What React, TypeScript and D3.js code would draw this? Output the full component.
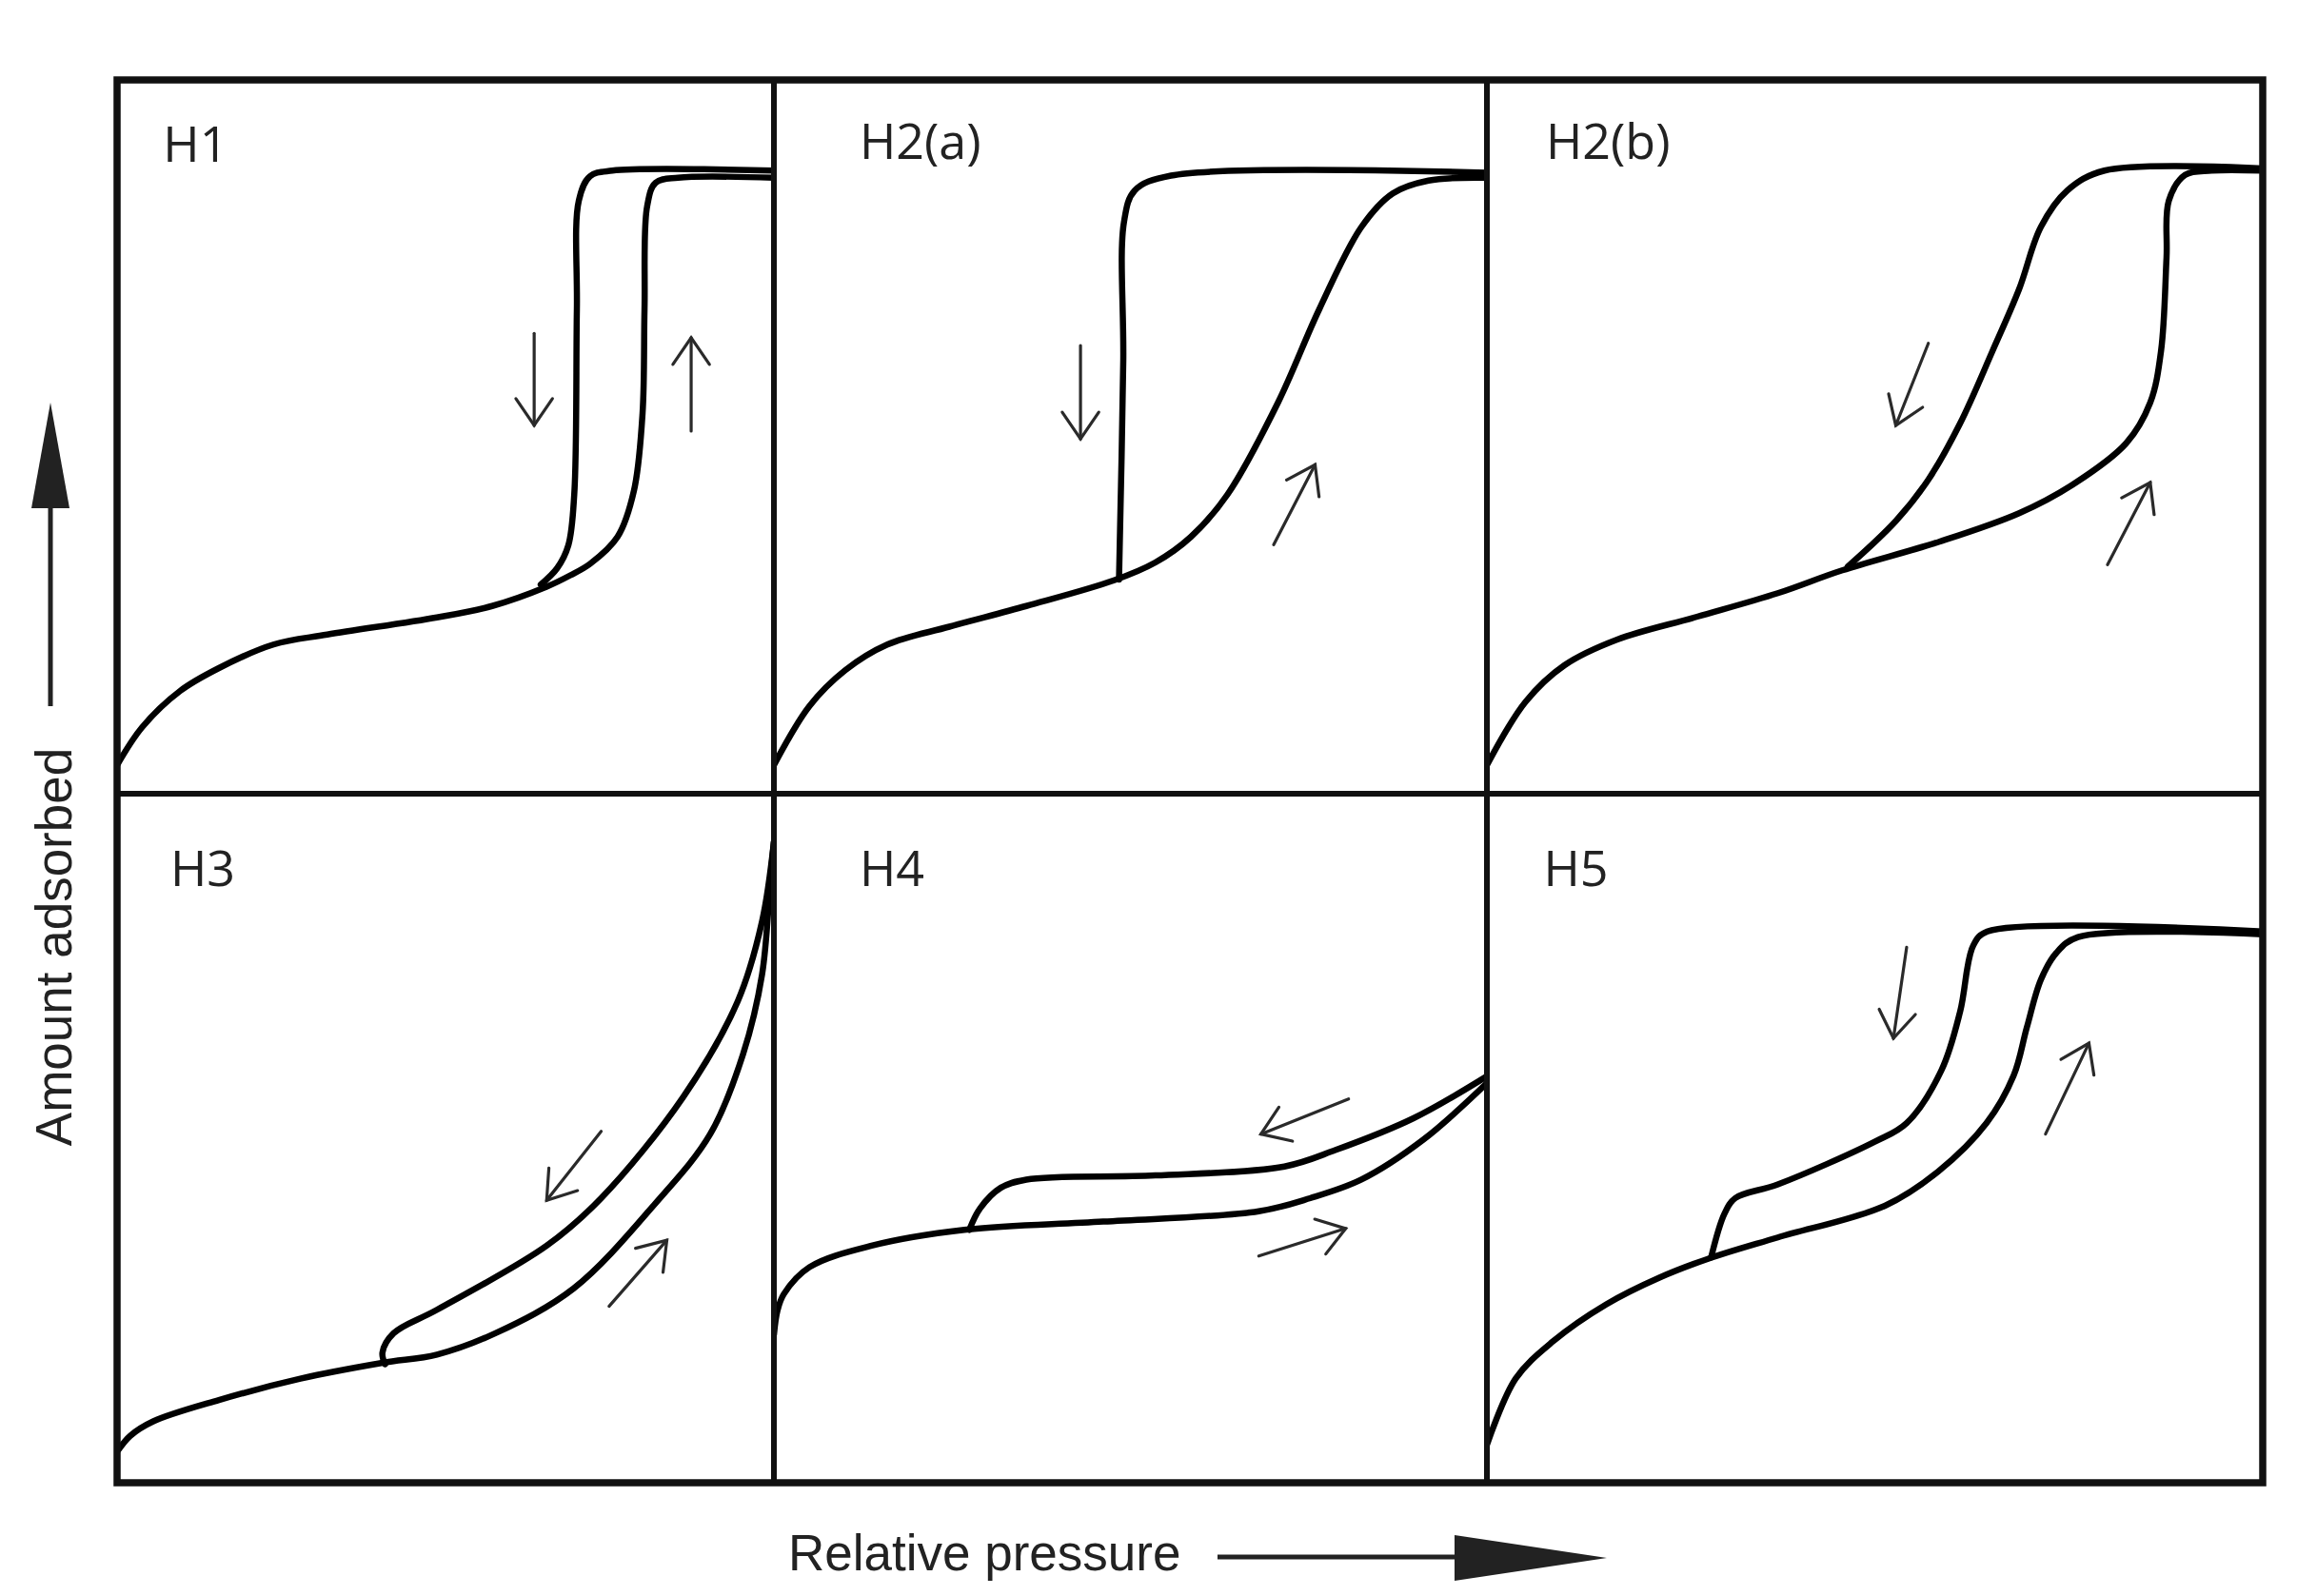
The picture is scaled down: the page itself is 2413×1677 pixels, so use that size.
import React from "react";
import * as d3 from "d3";

type P = [number, number];

// ---- data (relative pressure 0..1, amount adsorbed 0..1, normalized per panel) ----
const panelNames = ["H1", "H2(a)", "H2(b)", "H3", "H4", "H5"];

const h1Adsorption: P[] = [[0, 0.04], [0.038, 0.093], [0.096, 0.144], [0.155, 0.176], [0.238, 0.209], [0.32, 0.223], [0.487, 0.247], [0.571, 0.263], [0.654, 0.29], [0.69, 0.306], [0.72, 0.322], [0.762, 0.36], [0.787, 0.425], [0.8, 0.533], [0.803, 0.679], [0.807, 0.823], [0.82, 0.856], [0.854, 0.863], [1, 0.863]];
const h1Desorption: P[] = [[1, 0.873], [0.754, 0.873], [0.72, 0.865], [0.703, 0.831], [0.7, 0.679], [0.696, 0.419], [0.687, 0.348], [0.67, 0.316], [0.645, 0.293]];

const h2aAdsorption: P[] = [[0, 0.04], [0.05, 0.123], [0.1, 0.173], [0.159, 0.209], [0.246, 0.234], [0.354, 0.263], [0.477, 0.299], [0.535, 0.324], [0.585, 0.36], [0.636, 0.419], [0.707, 0.548], [0.765, 0.679], [0.824, 0.794], [0.868, 0.841], [0.918, 0.859], [1, 0.863]];
const h2aDesorption: P[] = [[1, 0.87], [0.557, 0.866], [0.506, 0.845], [0.491, 0.801], [0.49, 0.607], [0.484, 0.3]];

const h2bAdsorption: P[] = [[0, 0.04], [0.05, 0.129], [0.1, 0.18], [0.168, 0.216], [0.271, 0.248], [0.375, 0.281], [0.458, 0.313], [0.583, 0.353], [0.686, 0.393], [0.755, 0.433], [0.824, 0.491], [0.855, 0.548], [0.869, 0.621], [0.876, 0.751], [0.879, 0.831], [0.9, 0.867], [0.934, 0.873], [1, 0.873]];
const h2bDesorption: P[] = [[1, 0.876], [0.796, 0.873], [0.748, 0.845], [0.714, 0.794], [0.686, 0.707], [0.652, 0.621], [0.61, 0.519], [0.569, 0.44], [0.527, 0.382], [0.465, 0.318]];

const h3Adsorption: P[] = [[0, 0.045], [0.02, 0.068], [0.055, 0.089], [0.155, 0.12], [0.279, 0.151], [0.404, 0.174], [0.487, 0.186], [0.576, 0.217], [0.695, 0.282], [0.82, 0.406], [0.903, 0.506], [0.953, 0.622], [0.982, 0.738], [0.995, 0.88], [1, 0.93]];
const h3Desorption: P[] = [[1, 0.93], [0.982, 0.815], [0.945, 0.699], [0.862, 0.56], [0.737, 0.413], [0.654, 0.344], [0.487, 0.251], [0.421, 0.217], [0.404, 0.189], [0.408, 0.172]];

const h4Adsorption: P[] = [[0, 0.215], [0.005, 0.25], [0.014, 0.274], [0.05, 0.313], [0.137, 0.344], [0.267, 0.367], [0.462, 0.379], [0.68, 0.394], [0.752, 0.413], [0.824, 0.44], [0.911, 0.498], [1, 0.58]];
const h4Desorption: P[] = [[1, 0.59], [0.897, 0.529], [0.788, 0.483], [0.716, 0.459], [0.535, 0.446], [0.354, 0.44], [0.318, 0.428], [0.289, 0.398], [0.274, 0.367]];

const h5Adsorption: P[] = [[0, 0.055], [0.037, 0.151], [0.085, 0.205], [0.154, 0.259], [0.223, 0.298], [0.285, 0.325], [0.375, 0.356], [0.513, 0.402], [0.582, 0.452], [0.644, 0.522], [0.679, 0.591], [0.696, 0.661], [0.714, 0.73], [0.734, 0.769], [0.762, 0.792], [1, 0.796]];
const h5Desorption: P[] = [[1, 0.8], [0.645, 0.8], [0.627, 0.78], [0.61, 0.684], [0.586, 0.599], [0.541, 0.522], [0.5, 0.495], [0.375, 0.433], [0.32, 0.413], [0.306, 0.39], [0.289, 0.327]];

// direction arrows: [from, to] per panel
const h1Arrows: [P, P][] = [[[0.635, 0.645], [0.635, 0.516]], [[0.874, 0.508], [0.874, 0.639]]];
const h2aArrows: [P, P][] = [[[0.43, 0.628], [0.43, 0.497]], [[0.701, 0.349], [0.759, 0.461]]];
const h2bArrows: [P, P][] = [[[0.569, 0.631], [0.527, 0.516]], [[0.8, 0.321], [0.855, 0.436]]];
const h3Arrows: [P, P][] = [[[0.737, 0.51], [0.654, 0.41]], [[0.749, 0.256], [0.837, 0.352]]];
const h4Arrows: [P, P][] = [[[0.806, 0.557], [0.683, 0.506]], [[0.68, 0.329], [0.802, 0.369]]];
const h5Arrows: [P, P][] = [[[0.541, 0.777], [0.524, 0.645]], [[0.72, 0.506], [0.776, 0.638]]];

// panel label anchors (data units)
const labelAnchors: P[] = [[0.07, 0.885], [0.12, 0.89], [0.076, 0.89], [0.081, 0.866], [0.12, 0.866], [0.073, 0.866]];

const xAxisTitle = "Relative pressure";
const yAxisTitle = "Amount adsorbed";

const panels = [
  { name: panelNames[0], curves: [h1Adsorption, h1Desorption], arrows: h1Arrows, label: labelAnchors[0] },
  { name: panelNames[1], curves: [h2aAdsorption, h2aDesorption], arrows: h2aArrows, label: labelAnchors[1] },
  { name: panelNames[2], curves: [h2bAdsorption, h2bDesorption], arrows: h2bArrows, label: labelAnchors[2] },
  { name: panelNames[3], curves: [h3Adsorption, h3Desorption], arrows: h3Arrows, label: labelAnchors[3] },
  { name: panelNames[4], curves: [h4Adsorption, h4Desorption], arrows: h4Arrows, label: labelAnchors[4] },
  { name: panelNames[5], curves: [h5Adsorption, h5Desorption], arrows: h5Arrows, label: labelAnchors[5] },
];

// ---- layout ----
const W = 2413;
const H = 1677;
const colEdges = [123, 813, 1562, 2377];
const rowEdges = [84, 834, 1558];

function arrowHead(x1: number, y1: number, x2: number, y2: number, len: number, ang: number) {
  const a = Math.atan2(y2 - y1, x2 - x1);
  const p1 = [x2 - len * Math.cos(a - ang), y2 - len * Math.sin(a - ang)];
  const p2 = [x2 - len * Math.cos(a + ang), y2 - len * Math.sin(a + ang)];
  return `M${p1[0]},${p1[1]}L${x2},${y2}L${p2[0]},${p2[1]}`;
}

function Panel({ idx }: { idx: number }) {
  const p = panels[idx];
  const c = idx % 3;
  const r = Math.floor(idx / 3);
  const x = d3.scaleLinear().domain([0, 1]).range([colEdges[c], colEdges[c + 1]]);
  const y = d3.scaleLinear().domain([0, 1]).range([rowEdges[r + 1], rowEdges[r]]);
  const line = d3
    .line<P>()
    .x((d) => x(d[0]))
    .y((d) => y(d[1]))
    .curve(d3.curveCatmullRom.alpha(0.5));
  return (
    <g>
      <clipPath id={`clip${idx}`}>
        <rect x={colEdges[c]} y={rowEdges[r]} width={colEdges[c + 1] - colEdges[c]} height={rowEdges[r + 1] - rowEdges[r]} />
      </clipPath>
      <g clipPath={`url(#clip${idx})`}>
        {p.curves.map((cv, i) => (
          <path key={i} d={line(cv) || ""} fill="none" stroke="#000" strokeWidth={6.5} strokeLinejoin="round" strokeLinecap="round" />
        ))}
      </g>
      {p.arrows.map(([a, b], i) => {
        const x1 = x(a[0]), y1 = y(a[1]), x2 = x(b[0]), y2 = y(b[1]);
        return (
          <g key={i} stroke="#2a2a2a" strokeWidth={3.2} fill="none" strokeLinecap="round">
            <line x1={x1} y1={y1} x2={x2} y2={y2} />
            <path d={arrowHead(x1, y1, x2, y2, 34, 0.6)} />
          </g>
        );
      })}
      <text
        x={x(p.label[0])}
        y={y(p.label[1])}
        fontFamily="'Open Sans', 'Noto Sans', sans-serif"
        fontSize={52}
        fill="#222"
      >
        {p.name}
      </text>
    </g>
  );
}

export default function App() {
  return (
    <svg
      width={W}
      height={H}
      viewBox={`0 0 ${W} ${H}`}
      style={{ position: "absolute", left: 0, top: 0, background: "#fff" }}
    >
      <rect x={0} y={0} width={W} height={H} fill="#fff" />
      {panels.map((_, i) => (
        <Panel key={i} idx={i} />
      ))}
      {/* grid frame */}
      <g stroke="#111" fill="none">
        <line x1={colEdges[1]} x2={colEdges[1]} y1={rowEdges[0]} y2={rowEdges[2]} strokeWidth={6} />
        <line x1={colEdges[2]} x2={colEdges[2]} y1={rowEdges[0]} y2={rowEdges[2]} strokeWidth={6} />
        <line x1={colEdges[0]} x2={colEdges[3]} y1={rowEdges[1]} y2={rowEdges[1]} strokeWidth={6} />
        <rect
          x={colEdges[0]}
          y={rowEdges[0]}
          width={colEdges[3] - colEdges[0]}
          height={rowEdges[2] - rowEdges[0]}
          strokeWidth={7.5}
        />
      </g>
      {/* y axis title + arrow */}
      <text
        transform={`translate(75, 995) rotate(-90)`}
        textAnchor="middle"
        fontFamily="'Liberation Sans', Arial, sans-serif"
        fontSize={53}
        fill="#222"
      >
        {yAxisTitle}
      </text>
      <line x1={53} x2={53} y1={742} y2={530} stroke="#222" strokeWidth={5} />
      <path d="M53,423L33,534L73,534Z" fill="#222" />
      {/* x axis title + arrow */}
      <text x={828} y={1650} fontFamily="'Liberation Sans', Arial, sans-serif" fontSize={53} fill="#222">
        {xAxisTitle}
      </text>
      <line x1={1279} x2={1532} y1={1636} y2={1636} stroke="#222" strokeWidth={5} />
      <path d="M1688,1637L1528,1613L1528,1661Z" fill="#222" />
    </svg>
  );
}
